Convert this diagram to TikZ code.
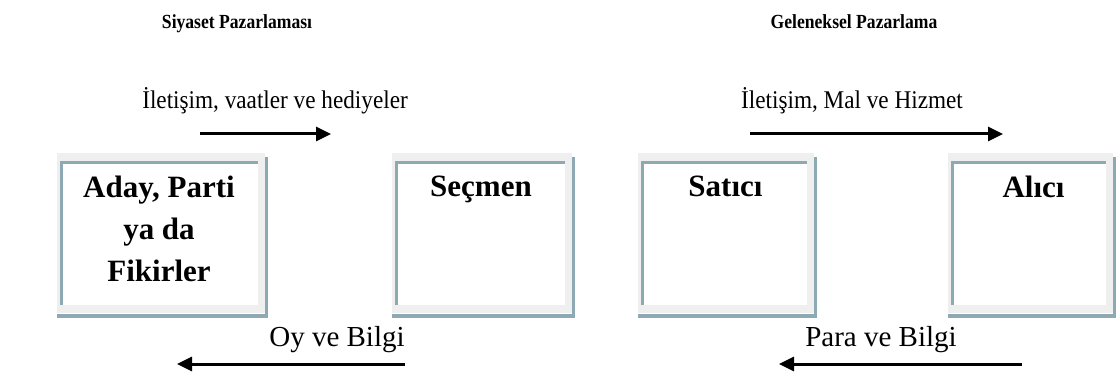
\documentclass[tikz,border=0pt]{standalone}
\usepackage{fontspec}
\setmainfont{Liberation Serif}
\usetikzlibrary{arrows.meta}
\definecolor{frameblue}{HTML}{8DA9B3}
\definecolor{framegrey}{HTML}{EFEFEF}
\newcommand\fancyframe[3]{% name, left, right
  \node[fill=framegrey, inner sep=0, minimum width={#3-#2-3}, minimum height=160, anchor=north west] (#1) at (#2,153) {};
  \fill[white] (#2+3,161) rectangle (#3-10,305);
  \draw[frameblue, line width=2.6pt] (#2+4.3,305) -- (#2+4.3,162.5) -- (#3-10,162.5);
  \draw[frameblue, line width=3pt] (#3-1.5,157) -- (#3-1.5,318);
  \draw[frameblue, line width=4.5pt] (#2,315.8) -- (#3,315.8);
}
\begin{document}
\begin{tikzpicture}[x=1pt,y=-1pt,
  title/.style={font=\bfseries\fontsize{20}{24}\selectfont, inner sep=0, anchor=base, xscale=0.88},
  flowlabel/.style={font=\fontsize{25.5}{30}\selectfont, inner sep=0, anchor=base, xscale=0.91},
  backlabel/.style={font=\fontsize{29}{33}\selectfont, inner sep=0, anchor=base},
  boxtext/.style={font=\bfseries\fontsize{31}{42}\selectfont, align=center, inner sep=0, anchor=north},
  flow/.style={line width=3pt, -{Triangle[length=15pt,width=14pt]}},
]
\useasboundingbox[fill=white] (0,0) rectangle (1116,379);

\fancyframe{b1}{57}{268}
\fancyframe{b2}{392}{575}
\fancyframe{b3}{638}{817}
\fancyframe{b4}{948}{1116}

\node[boxtext] (t1) at (159,176) {Aday, Parti\\ya da\\Fikirler};
\node[boxtext] (t2) at (481,176) {Seçmen};
\node[boxtext] (t3) at (725.5,176) {Satıcı};
\node[boxtext] (t4) at (1033.5,176) {Alıcı};

\node[title] (h1) at (237,29) {Siyaset Pazarlaması};
\node[title] (h2) at (854,29) {Geleneksel Pazarlama};

\node[flowlabel] (l1) at (275,109) {İletişim, vaatler ve hediyeler};
\node[flowlabel] (l2) at (852,109) {İletişim, Mal ve Hizmet};
\node[backlabel] (l3) at (337,346) {Oy ve Bilgi};
\node[backlabel] (l4) at (881,346) {Para ve Bilgi};

\coordinate (a1s) at (200,134);
\coordinate (a1e) at (331,134);
\coordinate (a2s) at (750,134);
\coordinate (a2e) at (1003,134);
\coordinate (a3s) at (405,364);
\coordinate (a3e) at (177,364);
\coordinate (a4s) at (1022,364);
\coordinate (a4e) at (779,364);
\draw[flow] (a1s) -- (a1e);
\draw[flow] (a2s) -- (a2e);
\draw[flow] (a3s) -- (a3e);
\draw[flow] (a4s) -- (a4e);
\end{tikzpicture}
\end{document}
